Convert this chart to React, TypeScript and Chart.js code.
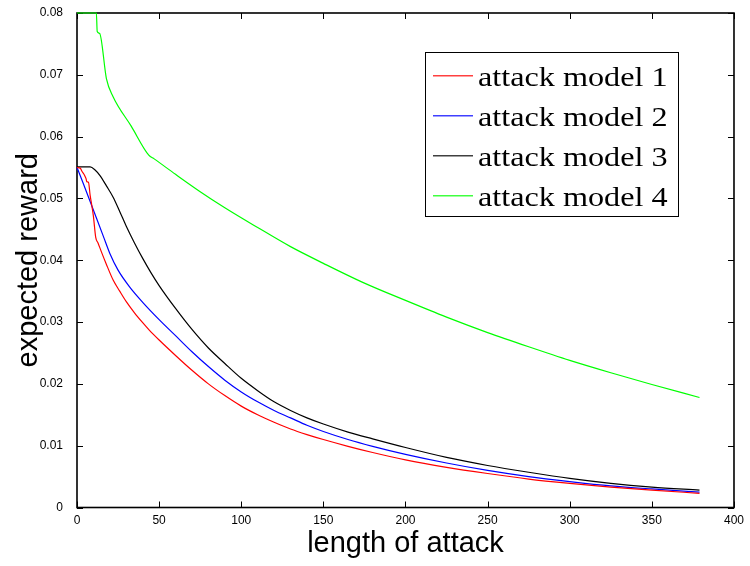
import { useEffect, useRef } from 'react';
import { Chart, registerables } from 'chart.js';

Chart.register(...registerables);

// Axis ticks
const xTickValues = [0, 50, 100, 150, 200, 250, 300, 350, 400];
const yTickLabels = ['0', '0.01', '0.02', '0.03', '0.04', '0.05', '0.06', '0.07', '0.08'];

const seriesNames = ['attack model 1', 'attack model 2', 'attack model 3', 'attack model 4'];
const seriesColors = ['#ff0000', '#0000ff', '#000000', '#00ff00'];

// attack model 1
const model1X = [0, 2, 3, 4.5, 5.5, 6, 7, 8, 9, 10, 11.4, 12.8, 14.8, 17.8, 22, 26, 30, 35, 40, 44, 50, 60, 70, 80, 90, 100, 110, 120, 130, 140, 150, 165, 180, 200, 225, 250, 275, 300, 325, 350, 379];
const model1Y = [0.055, 0.0549, 0.0544, 0.0538, 0.0532, 0.0527, 0.0526, 0.0505, 0.0489, 0.0471, 0.0437, 0.0428, 0.0414, 0.0394, 0.0368, 0.035, 0.0333, 0.0315, 0.0299, 0.0287, 0.0271, 0.0246, 0.0222, 0.02, 0.0181, 0.0164, 0.015, 0.0138, 0.0127, 0.0118, 0.011, 0.0099, 0.0089, 0.0077, 0.0065, 0.0055, 0.0046, 0.0039, 0.0033, 0.0028, 0.0023];

// attack model 2
const model2X = [0, 4, 8, 12, 16, 20, 25, 32, 40, 50, 60, 70, 80, 90, 100, 110, 120, 130, 140, 150, 165, 180, 200, 225, 250, 275, 300, 325, 350, 379];
const model2Y = [0.055, 0.0523, 0.0495, 0.0467, 0.0439, 0.0411, 0.0384, 0.0357, 0.0332, 0.0304, 0.0278, 0.0252, 0.0228, 0.0206, 0.0187, 0.0171, 0.0157, 0.0145, 0.0133, 0.0123, 0.011, 0.0099, 0.0086, 0.0072, 0.006, 0.005, 0.0042, 0.0035, 0.003, 0.0025];

// attack model 3
const model3X = [0, 8, 11, 14, 18, 22, 26, 30, 35, 40, 45, 50, 60, 70, 80, 90, 100, 110, 120, 130, 140, 150, 165, 180, 200, 225, 250, 275, 300, 325, 350, 379];
const model3Y = [0.0551, 0.0551, 0.0546, 0.0537, 0.052, 0.0502, 0.0479, 0.0455, 0.0428, 0.0403, 0.038, 0.0359, 0.0322, 0.0288, 0.0258, 0.0233, 0.0209, 0.0189, 0.0171, 0.0157, 0.0145, 0.0135, 0.0122, 0.0111, 0.0097, 0.0081, 0.0068, 0.0057, 0.0047, 0.0039, 0.0033, 0.0028];

// attack model 4
const model4X = [0, 11.8, 12.3, 13.8, 17.9, 21.9, 33, 43.7, 47, 60, 75, 90, 110, 130, 150, 175, 200, 225, 250, 275, 300, 325, 350, 379];
const model4Y = [0.08, 0.08, 0.077, 0.0767, 0.0694, 0.0665, 0.0617, 0.057, 0.0564, 0.0539, 0.0511, 0.0485, 0.0453, 0.0422, 0.0395, 0.0363, 0.0335, 0.0308, 0.0283, 0.026, 0.0238, 0.0218, 0.0199, 0.0178];

const seriesX = [model1X, model2X, model3X, model4X];
const seriesY = [model1Y, model2Y, model3Y, model4Y];

// Box around the plot with MATLAB-style inward ticks on all four sides
const frameAndTicks = {
  id: 'frameAndTicks',
  beforeDatasetsDraw(chart: any) {
    const { ctx, chartArea: a, scales } = chart;
    const tl = 6;
    ctx.save();
    ctx.strokeStyle = '#000';
    ctx.lineWidth = 1;
    ctx.beginPath();
    for (const v of xTickValues) {
      const px = Math.round(scales.x.getPixelForValue(v)) + 0.5;
      ctx.moveTo(px, a.bottom);
      ctx.lineTo(px, a.bottom - tl);
      ctx.moveTo(px, a.top);
      ctx.lineTo(px, a.top + tl);
    }
    scales.y.ticks.forEach((t: any) => {
      const py = Math.round(scales.y.getPixelForValue(t.value)) + 0.5;
      ctx.moveTo(a.left, py);
      ctx.lineTo(a.left + tl, py);
      ctx.moveTo(a.right, py);
      ctx.lineTo(a.right - tl, py);
    });
    ctx.stroke();
    ctx.lineWidth = 1.6;
    ctx.strokeRect(a.left, a.top, a.right - a.left, a.bottom - a.top);
    ctx.restore();
  },
};

// Boxed legend in the upper right of the plot
const boxLegend = {
  id: 'boxLegend',
  afterDraw(chart: any) {
    const { ctx, chartArea: a } = chart;
    const boxW = 253;
    const boxH = 164;
    const x0 = Math.round(a.right - 56 - boxW);
    const y0 = Math.round(a.top + 39) + 0.5;
    ctx.save();
    ctx.fillStyle = '#fff';
    ctx.fillRect(x0, y0, boxW, boxH);
    ctx.strokeStyle = '#000';
    ctx.lineWidth = 1;
    ctx.strokeRect(x0 + 0.5, y0, boxW, boxH);
    seriesNames.forEach((name, i) => {
      const ly = Math.round(y0 + 22 + i * 40);
      ctx.fillStyle = seriesColors[i];
      ctx.globalAlpha = 0.75;
      ctx.fillRect(x0 + 8, ly, 40, 1.5);
      ctx.globalAlpha = 1;
      ctx.save();
      ctx.translate(x0 + 53, ly + 11);
      ctx.scale(1.15, 1);
      ctx.fillStyle = '#000';
      ctx.font = '28px "Liberation Serif", "Times New Roman", serif';
      ctx.textBaseline = 'alphabetic';
      ctx.textAlign = 'left';
      ctx.fillText(name, 0, 0);
      ctx.restore();
    });
    ctx.restore();
  },
};

export default function App() {
  const canvasRef = useRef<HTMLCanvasElement | null>(null);

  useEffect(() => {
    const canvas = canvasRef.current;
    if (!canvas) return;
    const datasets = seriesNames.map((name, i) => ({
      label: name,
      data: seriesX[i].map((x, j) => ({ x, y: seriesY[i][j] })),
      borderColor: seriesColors[i],
      backgroundColor: seriesColors[i],
      borderWidth: 1.2,
      pointRadius: 0,
      fill: false,
      cubicInterpolationMode: 'monotone' as const,
      clip: 3,
    }));

    const chart = new Chart(canvas, {
      type: 'line',
      data: { datasets },
      options: {
        animation: false,
        responsive: false,
        devicePixelRatio: 1,
        layout: { padding: { top: 13, right: 14, left: 0, bottom: 0 } },
        plugins: {
          legend: { display: false },
          tooltip: { enabled: false },
        },
        scales: {
          x: {
            type: 'linear',
            min: 0,
            max: 400,
            afterBuildTicks: (s: any) => {
              s.ticks = xTickValues.map((v) => ({ value: v }));
            },
            afterFit: (s: any) => {
              s.height = 58.5;
            },
            grid: { display: false, drawTicks: false },
            border: { display: false },
            ticks: {
              color: '#000',
              padding: 6,
              maxRotation: 0,
              autoSkip: false,
              font: { family: '"Liberation Sans", Arial, sans-serif', size: 12 },
            },
            title: {
              display: true,
              text: 'length of attack',
              color: '#000',
              font: { family: '"Liberation Sans", Arial, sans-serif', size: 29 },
              padding: { top: 0, bottom: 5 },
            },
          },
          y: {
            type: 'linear',
            min: 0,
            max: 0.08,
            afterBuildTicks: (s: any) => {
              s.ticks = yTickLabels.map((_, i) => ({ value: i * 0.01 }));
            },
            afterFit: (s: any) => {
              s.width = 77;
              s.paddingTop = 0;
              s.paddingBottom = 0;
            },
            grid: { display: false, drawTicks: false },
            border: { display: false },
            ticks: {
              color: '#000',
              padding: 14,
              autoSkip: false,
              callback: (_v: any, i: number) => yTickLabels[i],
              font: { family: '"Liberation Sans", Arial, sans-serif', size: 12 },
            },
            title: {
              display: true,
              text: 'expected reward',
              color: '#000',
              font: { family: '"Liberation Sans", Arial, sans-serif', size: 29 },
              padding: { top: 12, bottom: 0 },
            },
          },
        },
      },
      plugins: [frameAndTicks, boxLegend],
    });
    return () => chart.destroy();
  }, []);

  return (
    <div style={{ position: 'absolute', left: 0, top: 0, width: 750, height: 566, background: '#fff' }}>
      <canvas ref={canvasRef} width={750} height={566} />
    </div>
  );
}
